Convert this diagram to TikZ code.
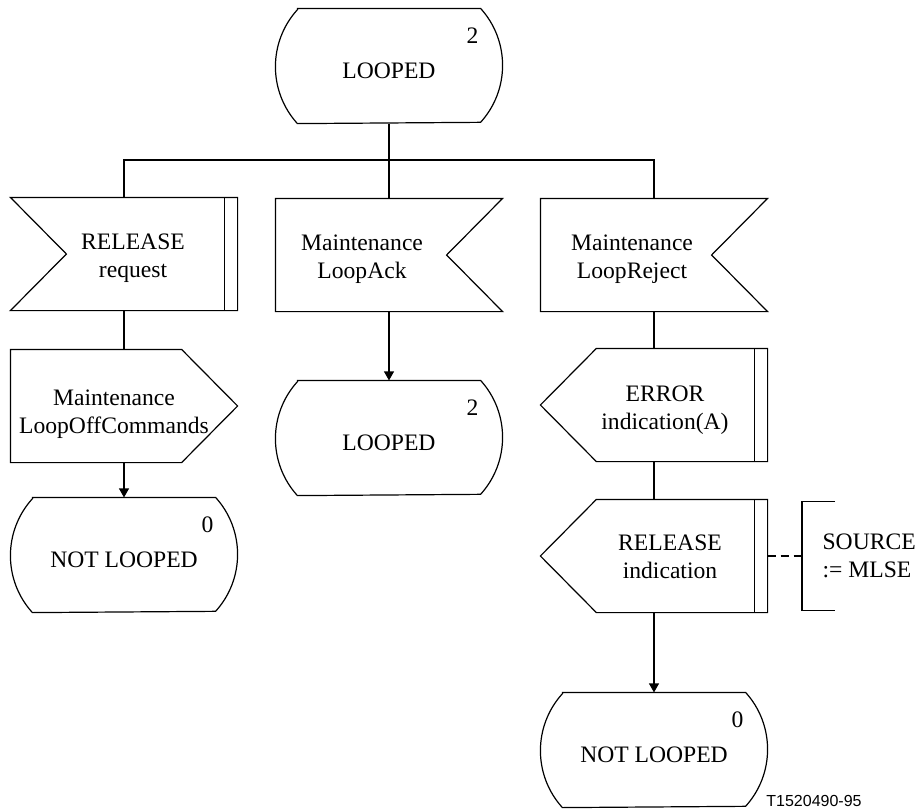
\documentclass[tikz,border=0pt]{standalone}
\usepackage{fontspec}
\setmainfont{Liberation Serif}
\setsansfont{Liberation Sans}
\usepackage{tikz}
\usetikzlibrary{arrows.meta}
\newcommand{\loopfont}{\linespread{1}\fontsize{11.8}{14}\selectfont}
\newcommand{\loopsmallfont}{\linespread{1}\fontsize{8}{9.5}\selectfont\sffamily}
\tikzset{
    loop/chart/.style={font=\loopfont, x=0.5pt, y=-0.5pt, line width=0.6pt, every node/.style={align=center}},
    loop/box/.style={rectangle, inner sep=0pt, minimum width=113pt, minimum height=56pt},
    loop/state/.style={loop/box, minimum height=57pt, text height=12.5pt, append after command={\pgfextra{
        \draw ([xshift=11pt]\tikzlastnode.north west) -- ([xshift=-11pt]\tikzlastnode.north east)
            arc[start angle=42.2, end angle=-42.2, radius=42.4pt]
            -- ([xshift=11pt]\tikzlastnode.south west)
            arc[start angle=222.2, end angle=137.8, radius=42.4pt] -- cycle;}}},
    loop/inleft/.style={loop/box, append after command={\pgfextra{
        \draw (\tikzlastnode.north west) -- (\tikzlastnode.north east) -- (\tikzlastnode.south east)
            -- (\tikzlastnode.south west) -- ([xshift=28pt]\tikzlastnode.west) -- cycle;}}},
    loop/inright/.style={loop/box, append after command={\pgfextra{
        \draw (\tikzlastnode.north west) -- (\tikzlastnode.north east) -- ([xshift=-28pt]\tikzlastnode.east)
            -- (\tikzlastnode.south east) -- (\tikzlastnode.south west) -- cycle;}}},
    loop/outleft/.style={loop/box, append after command={\pgfextra{
        \draw ([xshift=28pt]\tikzlastnode.north west) -- (\tikzlastnode.north east) -- (\tikzlastnode.south east)
            -- ([xshift=28pt]\tikzlastnode.south west) -- (\tikzlastnode.west) -- cycle;}}},
    loop/outright/.style={loop/box, append after command={\pgfextra{
        \draw (\tikzlastnode.north west) -- ([xshift=-28pt]\tikzlastnode.north east) -- (\tikzlastnode.east)
            -- ([xshift=-28pt]\tikzlastnode.south east) -- (\tikzlastnode.south west) -- cycle;}}},
    loop/dbar/.style={append after command={\pgfextra{
        \draw ([xshift=-6.5pt]\tikzlastnode.north east) -- ([xshift=-6.5pt]\tikzlastnode.south east);}}},
    loop/comment/.style={rectangle, align=left, inner xsep=10pt, inner ysep=0pt, minimum height=54pt, append after command={\pgfextra{
        \draw ([xshift=16.5pt]\tikzlastnode.north west) -- (\tikzlastnode.north west)
            -- (\tikzlastnode.south west) -- ([xshift=16.5pt]\tikzlastnode.south west);}}},
    loop/text/.style={anchor=center, inner sep=0pt, yshift=-2pt},
    loop/num/.style={anchor=center, inner sep=0pt, xshift=-15pt, yshift=-13.5pt},
    loop/arrow/.style={->, >={Triangle[length=4.5pt,width=5pt]}},
    loop/commentline/.style={dash pattern=on 4pt off 2.5pt}
}
\begin{document}
\begin{tikzpicture}[loop/chart]
    \useasboundingbox (0,0) rectangle (918,810);
    \node[loop/state, label={[loop/num]north east:2}] (looped) at (389,66) {LOOPED};
    \node[loop/inleft, loop/dbar, label={[loop/text, xshift=4.5pt]center:RELEASE\\request}] (relreq) at (124,254) {};
    \node[loop/inright, label={[loop/text, xshift=-13.5pt]center:Maintenance\\LoopAck}] (loopack) at (389,255) {};
    \node[loop/inright, label={[loop/text, xshift=-11pt]center:Maintenance\\LoopReject}] (loopreject) at (654,255) {};
    \node[loop/outright, label={[loop/text, xshift=-5pt, yshift=-2pt]center:Maintenance\\LoopOffCommands}] (offcmds) at (124,406) {};
    \node[loop/state, label={[loop/num]north east:2}] (loopedb) at (389,438) {LOOPED};
    \node[loop/outleft, loop/dbar, label={[loop/text, xshift=5.5pt, yshift=-0.5pt]center:ERROR\\indication(A)}] (error) at (654,405) {};
    \node[loop/state, label={[loop/num]north east:0}] (notlooped) at (124,555) {NOT LOOPED};
    \node[loop/outleft, loop/dbar, label={[loop/text, xshift=8pt, yshift=1.5pt]center:RELEASE\\indication}] (relind) at (654,556) {};
    \node[loop/comment, anchor=west] (srccomment) at (802,556) {SOURCE\\:= MLSE};
    \node[loop/state, label={[loop/num]north east:0}] (notloopedb) at (654,750) {NOT LOOPED};
    \node[font=\loopsmallfont] (figno) at (814,801) {T1520490-95};
    \coordinate (fork) at (389,160);
    \draw (looped) -- (fork);
    \draw (relreq) |- (fork) -| (loopreject);
    \foreach \source/\target in {fork/loopack,relreq/offcmds,loopreject/error,error/relind}
        \draw (\source) -- (\target);
    \foreach \source/\target in {offcmds/notlooped,loopack/loopedb,relind/notloopedb}
        \draw[loop/arrow] (\source) -- (\target);
    \draw[loop/commentline] (relind) -- (srccomment);
\end{tikzpicture}
\end{document}
